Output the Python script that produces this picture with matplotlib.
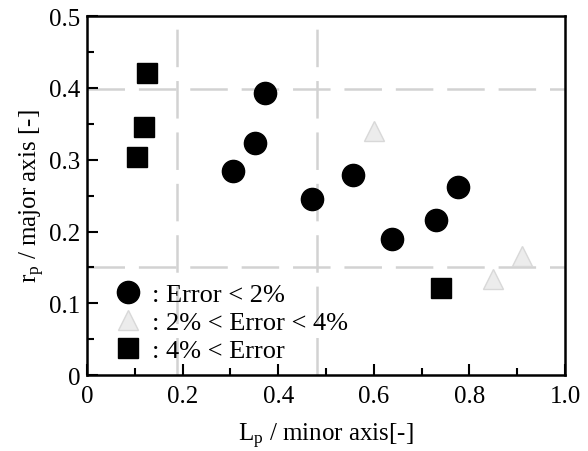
import matplotlib
matplotlib.use("Agg")
import matplotlib.pyplot as plt
from matplotlib.ticker import MultipleLocator

# Datos
circ_x = [0.306, 0.351, 0.372, 0.471, 0.557, 0.638, 0.730, 0.776]
circ_y = [0.284, 0.323, 0.393, 0.245, 0.279, 0.189, 0.216, 0.262]

tri_x = [0.600, 0.850, 0.910]
tri_y = [0.340, 0.134, 0.166]

sq_x = [0.105, 0.119, 0.126, 0.741]
sq_y = [0.304, 0.345, 0.421, 0.121]

vlines_x = [0.188, 0.482]
hlines_y = [0.150, 0.398]

x_ticks = [0, 0.2, 0.4, 0.6, 0.8, 1.0]
x_ticklabels = ['0', '0.2', '0.4', '0.6', '0.8', '1.0']
y_ticks = [0, 0.1, 0.2, 0.3, 0.4, 0.5]
y_ticklabels = ['0', '0.1', '0.2', '0.3', '0.4', '0.5']

legend_labels = [': Error < 2%', ': 2% < Error < 4%', ': 4% < Error']

plt.rcParams['font.family'] = ['Liberation Serif', 'DejaVu Serif']
plt.rcParams['lines.scale_dashes'] = False
plt.rcParams['mathtext.fontset'] = 'custom'
plt.rcParams['mathtext.rm'] = 'Liberation Serif'
plt.rcParams['mathtext.it'] = 'Liberation Serif'

fig = plt.figure(figsize=(5.88, 4.52), dpi=100)
ax = fig.add_axes([0.148, 0.168, 0.813, 0.794])

# Lineas discontinuas grises (muy claras)
for xv in vlines_x:
    ax.axvline(xv, color='#d2d2d2', lw=1.8, dashes=(27, 10), zorder=1)
for yv in hlines_y:
    ax.axhline(yv, color='#d2d2d2', lw=1.8, dashes=(27, 10), zorder=1)

ax.plot(circ_x, circ_y, 'o', color='black', markersize=16, ls='none',
        label=legend_labels[0], zorder=3)
ax.plot(tri_x, tri_y, '^', markerfacecolor='#ececec', markeredgecolor='#d8d8d8',
        markersize=14, ls='none', label=legend_labels[1], zorder=3)
ax.plot(sq_x, sq_y, 's', color='black', markersize=15, ls='none',
        label=legend_labels[2], zorder=3)

ax.set_xlim(0, 1.0)
ax.set_ylim(0, 0.5)
ax.set_xticks(x_ticks)
ax.set_xticklabels(x_ticklabels)
ax.set_yticks(y_ticks)
ax.set_yticklabels(y_ticklabels)
ax.xaxis.set_minor_locator(MultipleLocator(0.1))
ax.yaxis.set_minor_locator(MultipleLocator(0.05))

ax.tick_params(which='both', direction='in', top=False, right=False,
               labelsize=18, width=1.5)
ax.tick_params(which='major', length=8)
ax.tick_params(axis='x', which='major', pad=7)
ax.tick_params(axis='y', which='major', pad=5)
ax.tick_params(which='minor', length=5)
for sp in ax.spines.values():
    sp.set_linewidth(1.8)

ax.set_xlabel(r'L$_\mathrm{p}$ / minor axis[-]', fontsize=18, labelpad=10)
ax.set_ylabel(r'r$_\mathrm{p}$ / major axis [-]', fontsize=18, labelpad=1)

ax.legend(loc='lower left', frameon=False, fontsize=19, handletextpad=0.15,
          labelspacing=0.17, borderaxespad=0.0, borderpad=0.4,
          handlelength=1.5, markerscale=1.0, bbox_to_anchor=(0.022, 0.006))

plt.savefig('out.png', dpi=100)
